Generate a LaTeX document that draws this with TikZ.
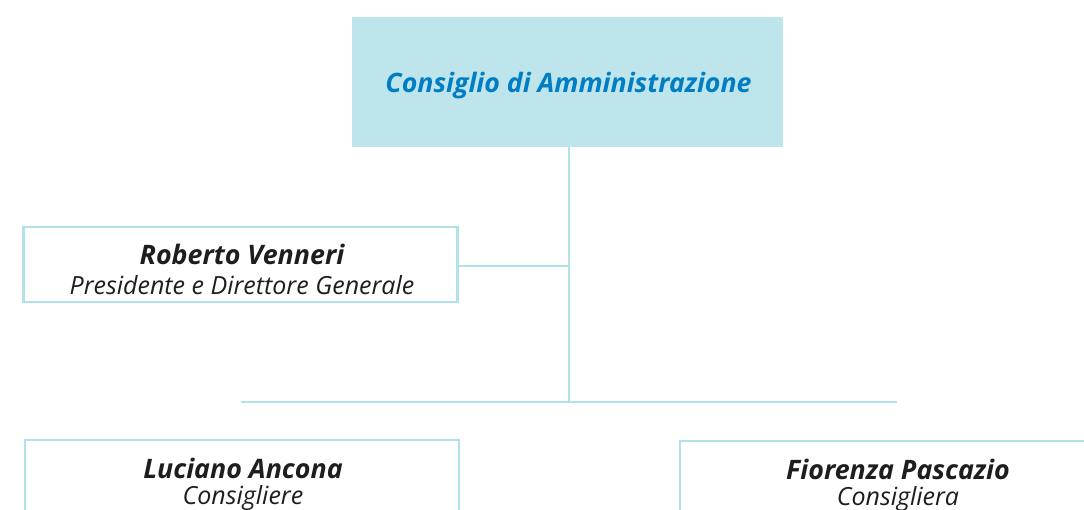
\documentclass[tikz,border=0pt]{standalone}
\usepackage{fontspec}
\setmainfont{Open Sans}
\definecolor{boxfill}{RGB}{190,229,236}
\definecolor{titleblue}{RGB}{0,125,195}
\definecolor{linecol}{RGB}{178,225,233}
\definecolor{textdark}{RGB}{30,30,30}
\tikzset{
  x=1pt,y=-1pt,
  conn/.style={draw=linecol,line width=2.6pt},
  personbox/.style={draw=linecol,line width=2.6pt,fill=white,minimum width=434pt,inner sep=0pt},
  namelbl/.style={font=\fontsize{26.8}{30}\selectfont\bfseries\itshape,text=textdark,inner sep=0pt},
  rolelbl/.style={font=\fontsize{25}{28}\selectfont\itshape,text=textdark,inner sep=0pt},
}
\begin{document}
\begin{tikzpicture}
\useasboundingbox (0,0) rectangle (1084,509);
\clip (0,0) rectangle (1084,509);
% top box
\node[fill=boxfill,minimum width=431pt,minimum height=130pt,inner sep=0pt] (cda) at (567.5,82) {};
\node[font=\fontsize{26.7}{30}\selectfont\bfseries\itshape,text=titleblue,inner sep=0pt] (cdat) at (568.5,86) {Consiglio di Amministrazione};
% boxes
\node[personbox,minimum height=75pt] (rv) at (240.5,264.5) {};
\node[personbox,minimum height=100pt] (la) at (242,490) {};
\node[personbox,minimum height=100pt] (fp) at (897,491) {};
% labels
\node[namelbl] (rvn) at (242,254) {Roberto Venneri};
\node[rolelbl] (rvr) at (242,285) {Presidente e Direttore Generale};
\node[namelbl] (lan) at (243,468) {Luciano Ancona};
\node[rolelbl] (lar) at (243,498) {Consigliere};
\node[namelbl] (fpn) at (898,469) {Fiorenza Pascazio};
\node[rolelbl] (fpr) at (898,499) {Consigliera};
% connectors
\coordinate (bus) at (569,402);
\coordinate (rvj) at (569,266);
\coordinate (busl) at (241,402);
\coordinate (busr) at (897,402);
\draw[conn] (cda.south -| bus) -- (bus);
\draw[conn] (rv.east |- rvj) -- (rvj);
\draw[conn] (busl) -- (busr);
\end{tikzpicture}
\end{document}
